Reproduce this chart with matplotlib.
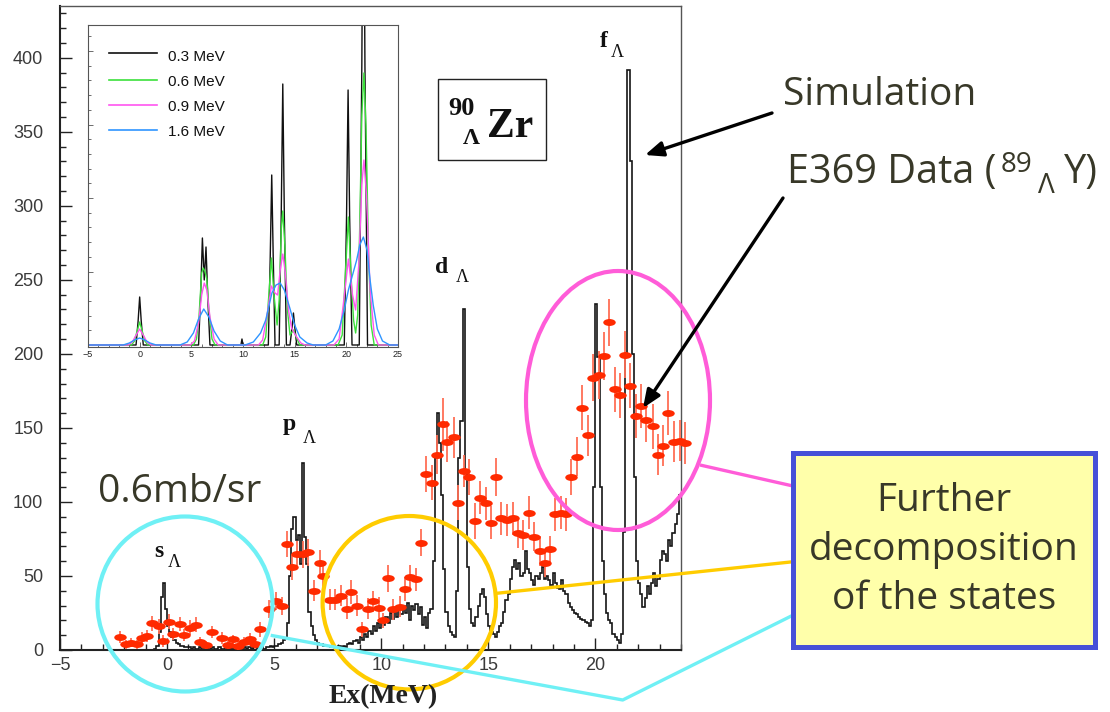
import numpy as np
import matplotlib
matplotlib.use('Agg')
import matplotlib.pyplot as plt
from matplotlib.path import Path
from matplotlib.patches import Ellipse, Rectangle, FancyArrowPatch
from matplotlib.ticker import MultipleLocator, NullFormatter

plt.rcParams['font.family'] = ['Liberation Sans', 'DejaVu Sans']

# ---------------- data ----------------
# simulated spectrum (0.1 MeV bins from -5 to 24 MeV)
sim_counts = [
    0, 0, 0, 0, 0, 0, 0, 0, 0, 0,          # -5
    0, 0, 0, 0, 0, 0, 0, 0, 0, 0,          # -4
    0, 0, 0, 0, 0, 0, 0, 0, 0, 0,          # -3
    0, 0, 0, 0, 0, 0, 0, 0, 0, 0,          # -2
    0, 0, 0, 0, 1, 3, 12, 36, 45, 28,      # -1
    16, 12, 9, 7, 5, 4, 3, 3, 2, 2,        # 0
    2, 1, 2, 1, 1, 2, 1, 1, 2, 1,          # 1
    1, 2, 1, 1, 2, 1, 1, 2, 1, 1,          # 2
    2, 1, 1, 2, 1, 1, 2, 1, 2, 1,          # 3
    2, 2, 1, 2, 2, 1, 2, 2, 3, 2,          # 4
    3, 3, 4, 5, 7, 8, 18, 50, 82, 90,      # 5
    74, 78, 58, 126, 76, 58, 26, 16, 10, 7,  # 6
    5, 4, 4, 3, 3, 3, 2, 3, 2, 2,          # 7
    3, 2, 3, 2, 4, 5, 4, 6, 7, 5,          # 8
    9, 7, 11, 9, 13, 11, 16, 13, 18, 15,   # 9
    20, 17, 22, 18, 25, 21, 27, 22, 28, 24,  # 10
    30, 25, 32, 20, 30, 27, 31, 24, 29, 17,  # 11
    22, 15, 25, 28, 60, 130, 160, 140, 105, 55,  # 12
    26, 16, 12, 10, 9, 40, 130, 155, 230, 120,   # 13
    56, 28, 18, 16, 22, 30, 38, 41, 36, 24,  # 14
    16, 12, 11, 9, 12, 16, 18, 26, 34, 38,   # 15
    48, 56, 61, 55, 59, 50, 52, 67, 55, 52,  # 16
    47, 44, 50, 48, 52, 56, 48, 50, 47, 44,  # 17
    52, 45, 42, 41, 47, 40, 38, 32, 29, 27,  # 18
    25, 24, 22, 21, 20, 19, 18, 16, 20, 110,  # 19
    234, 198, 110, 60, 38, 25, 20, 18, 11, 9,  # 20
    7, 5, 11, 80, 200, 392, 330, 200, 117, 60,  # 21
    45, 38, 29, 35, 43, 38, 45, 52, 43, 48,  # 22
    61, 67, 65, 60, 74, 70, 79, 85, 92, 105,  # 23
]
sim_edges = np.linspace(-5.0, 24.0, len(sim_counts) + 1)

# E369 data points
data_E = [-2.2, -1.92, -1.68, -1.42, -1.18, -0.95, -0.72, -0.4, -0.17, 0.11,
          0.3, 0.61, 0.81, 1.07, 1.36, 1.54, 1.82, 2.09, 2.55, 2.83,
          3.1, 3.33, 3.61, 3.85, 4.11, 4.35, 4.78, 5.09, 5.36, 5.59,
          5.83, 6.06, 6.37, 6.6, 6.84, 7.12, 7.27, 7.62, 7.85, 8.12,
          8.4, 8.6, 8.86, 9.1, 9.38, 9.64, 9.88, 10.1, 10.34, 10.55,
          10.86, 11.12, 11.36, 11.64, 11.85, 12.1, 12.37, 12.6, 12.88, 13.07,
          13.38, 13.6, 13.85, 14.11, 14.39, 14.63, 14.89, 15.12, 15.37, 15.6,
          15.87, 16.14, 16.37, 16.62, 16.89, 17.12, 17.4, 17.66, 17.9, 18.13,
          18.4, 18.64, 18.88, 19.14, 19.38, 19.66, 19.88, 20.19, 20.4, 20.65,
          20.9, 21.14, 21.4, 21.64, 21.92, 22.13, 22.38, 22.68, 22.91, 23.16,
          23.4, 23.66, 23.93, 24.2]
data_counts = [8.6, 4, 5, 4, 8, 9.7, 18, 16, 6, 19,
               11, 17.6, 10, 15, 17, 5.6, 3.4, 12.4, 8.3, 3.4,
               7.2, 3, 5.6, 7.2, 3.8, 14, 27.5, 33, 29.7, 71.6,
               56, 64.6, 64.6, 66, 40, 58.6, 50, 34, 34, 36.7,
               28, 39.4, 30, 14, 28, 33, 28.6, 20, 48.4, 27.5,
               29.3, 41, 49.5, 47.7, 72.5, 119, 113, 132, 152.5, 140.7,
               143.7, 99.5, 121, 116.7, 87, 103, 99, 86, 116.7, 89,
               87.8, 89, 79, 77.7, 92.8, 76.6, 67, 58.6, 68, 91.7,
               92.8, 91.7, 117, 130.6, 163.7, 145, 184, 185.8, 198.6, 221.4,
               176, 172, 199.5, 178.6, 158, 165, 155.4, 151, 132, 138,
               160, 140.7, 141.4, 139.7]
data_err = [4, 3, 3, 3, 4, 4, 5, 5, 4, 5,
            4, 5, 4, 5, 5, 3, 3, 4, 4, 3,
            3, 3, 3, 4, 3, 5, 6, 6, 6, 9,
            9, 9, 9, 9, 7, 9, 8, 7, 7, 7,
            7, 8, 7, 5, 7, 7, 7, 5, 9, 7,
            7, 8, 8, 8, 9, 12, 12, 13, 18, 14,
            14, 12, 11, 12, 12, 11, 11, 11, 13, 11,
            11, 11, 10, 10, 11, 10, 10, 9, 9, 11,
            11, 11, 12, 13, 15, 14, 16, 16, 16, 16,
            15, 15, 16, 15, 15, 15, 15, 15, 14, 14,
            15, 14, 14, 14]

# inset: simulated spectra for four resolutions (height in arbitrary units)
ins03_E = [-5, -0.35, -0.15, 0.0, 0.15, 0.35, 5.7, 5.9, 6.07, 6.25, 6.42, 6.6, 6.8,
           9.8, 9.9, 10.0, 12.45, 12.63, 12.78, 12.93, 13.1, 13.5, 13.7, 13.85, 14.0, 14.2,
           14.55, 14.73, 14.88, 15.03, 15.2, 19.8, 20.02, 20.17, 20.32, 20.55,
           21.25, 21.5, 21.65, 21.8, 22.05, 25]
ins03_h = [0, 0, 24, 48, 24, 0, 0, 50, 107, 65, 98, 45, 0,
           0, 6, 0, 0, 85, 170, 85, 0, 0, 130, 261, 130, 0,
           0, 16, 32, 16, 0, 0, 128, 255, 128, 0,
           0, 280, 560, 280, 0, 0]
ins06_E = [-5, -0.8, -0.5, -0.3, 0.0, 0.3, 0.5, 0.8,
           5.2, 5.5, 5.75, 6.0, 6.15, 6.3, 6.5, 6.7, 7.0, 7.3,
           11.9, 12.2, 12.5, 12.75, 13.0, 13.3, 13.5, 13.7, 13.85, 14.05, 14.3, 14.55, 14.88, 15.15, 15.5,
           19.2, 19.6, 19.9, 20.2, 20.45, 20.7, 20.9, 21.1, 21.3, 21.5, 21.7, 21.9, 22.15, 22.4, 22.7, 25]
ins06_h = [0, 0, 4, 12, 23, 12, 4, 0,
           0, 6, 30, 72, 77, 74, 66, 35, 6, 0,
           0, 8, 50, 87, 50, 20, 45, 115, 134, 100, 35, 10, 15, 8, 0,
           0, 10, 70, 128, 70, 25, 12, 30, 120, 230, 272, 220, 90, 20, 0, 0]
ins09_E = [-5, -1.1, -0.7, -0.45, 0.0, 0.45, 0.7, 1.1,
           4.9, 5.3, 5.7, 6.0, 6.25, 6.5, 6.8, 7.2, 7.6,
           11.5, 11.9, 12.3, 12.75, 13.1, 13.35, 13.6, 13.85, 14.1, 14.4, 14.7, 14.9, 15.2, 15.6, 16.0,
           18.8, 19.3, 19.7, 20.2, 20.6, 20.9, 21.2, 21.5, 21.7, 21.95, 22.3, 22.7, 23.1, 25]
ins09_h = [0, 0, 3, 8, 16, 8, 3, 0,
           0, 4, 22, 50, 62, 55, 28, 6, 0,
           0, 5, 28, 59, 52, 50, 75, 91, 72, 35, 17, 13, 8, 2, 0,
           0, 6, 40, 86, 50, 35, 80, 160, 185, 150, 55, 10, 0, 0]
ins16_E = [-5, -1.6, -1.0, -0.5, 0.0, 0.5, 1.0, 1.6,
           3.9, 4.6, 5.2, 5.7, 6.2, 6.7, 7.2, 7.8, 8.5,
           10.2, 11.0, 11.7, 12.2, 12.8, 13.2, 13.6, 14.0, 14.5, 15.0, 15.5, 16.2, 16.8,
           18.0, 18.7, 19.3, 19.8, 20.2, 20.6, 21.0, 21.3, 21.65, 22.0, 22.3, 22.6, 23.0, 23.5, 24.2, 25]
ins16_h = [0, 0, 2, 5, 7, 5, 2, 0,
           0, 3, 12, 26, 36, 28, 14, 4, 0,
           0, 3, 12, 25, 52, 60, 62, 55, 38, 20, 8, 2, 0,
           0, 4, 16, 35, 55, 70, 85, 100, 108, 95, 65, 40, 16, 4, 0, 0]
inset_labels = ['0.3 MeV', '0.6 MeV', '0.9 MeV', '1.6 MeV']
inset_colors = ['#111111', '#3ce03c', '#ff55f0', '#2f95ff']

# ---------------- figure ----------------
W, H = 1110, 712
fig = plt.figure(figsize=(W / 100, H / 100), dpi=100)


def px_rect(l, t, r, b):
    return [l / W, (H - b) / H, (r - l) / W, (b - t) / H]


ax = fig.add_axes(px_rect(60, 6, 681, 650))
ax.set_xlim(-5, 24)
ax.set_ylim(0, 435)
ax.stairs(sim_counts, sim_edges, color='#151515', lw=1.2, baseline=None, zorder=2)

circ = Path.unit_circle()
ell_marker = Path(circ.vertices * np.array([1.8, 1.0]), circ.codes)
eb = ax.errorbar(data_E, data_counts, yerr=data_err, fmt='none', ecolor='#ff6e55',
                 elinewidth=1.3, zorder=3)
for c in eb[2]:
    c.set_clip_on(False)
ax.plot(data_E, data_counts, ls='none', marker=ell_marker, ms=9, color='#ff2a00',
        mec='none', clip_on=False, zorder=4)

ax.xaxis.set_major_locator(MultipleLocator(5))
ax.xaxis.set_minor_locator(MultipleLocator(1))
ax.yaxis.set_major_locator(MultipleLocator(50))
ax.yaxis.set_minor_locator(MultipleLocator(10))
ax.tick_params(which='both', direction='in', top=False, right=False,
               color='#222222', width=1.0, labelcolor='#3a3a3a', labelsize=13)
ax.tick_params(which='major', length=8.6)
ax.tick_params(which='minor', length=4.3)
ax.tick_params(axis='x', pad=5)
ax.tick_params(axis='y', pad=12)
for s in ['left', 'bottom']:
    ax.spines[s].set_color('#222222')
    ax.spines[s].set_linewidth(1.5)
for s in ['top', 'right']:
    ax.spines[s].set_color('#555555')
    ax.spines[s].set_linewidth(1.0)

# ---- inset ----
axi = fig.add_axes(px_rect(88, 25, 398, 347))
axi.set_xlim(-5, 25)
axi.set_ylim(-2, 320)
for E, h, col in zip([ins03_E, ins06_E, ins09_E, ins16_E],
                     [ins03_h, ins06_h, ins09_h, ins16_h], inset_colors):
    axi.plot(E, h, color=col, lw=1.0)
axi.xaxis.set_major_locator(MultipleLocator(5))
axi.xaxis.set_minor_locator(MultipleLocator(1))
axi.yaxis.set_major_locator(MultipleLocator(73.5))
axi.yaxis.set_minor_locator(MultipleLocator(14.7))
axi.yaxis.set_major_formatter(NullFormatter())
axi.tick_params(which='both', direction='in', top=False, right=False,
                color='#555555', width=0.6, labelsize=6.5, labelcolor='#222222', pad=2)
axi.tick_params(which='major', length=3.5)
axi.tick_params(which='minor', length=2.0)
for s in axi.spines.values():
    s.set_color('#555555')
    s.set_linewidth(0.8)
leg_line_y = [53.3, 80, 105, 130]
leg_text_y = [56.7, 81.7, 107.3, 131.7]
for lab, col, ly, ty in zip(inset_labels, inset_colors, leg_line_y, leg_text_y):
    yf = (347 - ly) / 322
    axi.plot([(109 - 88) / 310, (157 - 88) / 310], [yf, yf], transform=axi.transAxes,
             color=col, lw=1.2)
    axi.text((168 - 88) / 310, (347 - ty) / 322, lab, transform=axi.transAxes,
             va='center', ha='left', fontsize=11, color='#111111')

# ---- overlay (pixel coordinates) ----
ov = fig.add_axes([0, 0, 1, 1], zorder=10)
ov.set_xlim(0, W)
ov.set_ylim(H, 0)
ov.axis('off')
ov.patch.set_alpha(0)

serif = ['Liberation Serif', 'DejaVu Serif']
sans2 = ['Open Sans', 'DejaVu Sans']
txtcol = '#383828'

ov.text(383, 703, 'Ex(MeV)', ha='center', va='baseline', family=serif,
        weight='bold', fontsize=20, color='#222222')

# peak labels
for (lx, ly, letter), (gx, gy) in zip(
        [(154, 557, 's'), (283, 430, 'p'), (435, 273, 'd'), (600, 46.7, 'f')],
        [(168, 567), (303, 443), (456, 281.7), (610.7, 56.7)]):
    ov.text(lx, ly, letter, ha='left', va='baseline', family=serif, weight='bold',
            fontsize=17, color='#111111')
    ov.text(gx, gy, 'Λ', ha='left', va='baseline', family=serif, fontsize=13,
            color='#111111')

# 90 Lambda Zr box
ov.add_patch(Rectangle((438.3, 79.3), 107.7, 80.7, fill=False, ec='#222222', lw=1.0))
ov.text(448, 115, '90', ha='left', va='baseline', family=serif, weight='bold',
        fontsize=19, color='#111111')
ov.text(463, 144, 'Λ', ha='left', va='baseline', family=serif, weight='bold',
        fontsize=17, color='#111111')
ov.text(486.7, 137, 'Zr', ha='left', va='baseline', family=serif, weight='bold',
        fontsize=30, color='#111111')

# 0.6mb/sr
ov.text(98.3, 501.7, '0.6mb/sr', ha='left', va='baseline', family=sans2,
        fontsize=28, color=txtcol)

# circles
ov.add_patch(Ellipse((185, 604), 175, 175, fill=False, ec='#6ff0f5', lw=3))
ov.add_patch(Ellipse((409.3, 602.7), 173.4, 173.4, fill=False, ec='#ffcc00', lw=3))
ov.add_patch(Ellipse((618, 400.5), 184, 259, fill=False, ec='#ff5cd8', lw=3))

# connecting lines
ov.plot([700, 793], [465, 486], color='#ff5cd8', lw=2.4, solid_capstyle='butt')
ov.plot([496.7, 793.3], [593.3, 561.7], color='#ffcc00', lw=2.4, solid_capstyle='butt')
ov.plot([270.7, 622.7, 793.3], [635.3, 700, 615], color='#6ff0f5', lw=2.4,
        solid_capstyle='butt')

# box
ov.add_patch(Rectangle((793.3, 453.3), 301.7, 193.4, fc='#ffffaa', ec='#4650d8', lw=3.6,
                       zorder=3))
for ty, t in zip([510.7, 560, 609.3], ['Further', 'decomposition', 'of the states']):
    ov.text(944, ty, t, ha='center', va='baseline', family=sans2, fontsize=28,
            color=txtcol, zorder=4)

# Simulation / data labels
ov.text(783.3, 105, 'Simulation', ha='left', va='baseline', family=sans2, fontsize=28,
        color=txtcol)
ov.text(786.7, 183.3, 'E369 Data (', ha='left', va='baseline', family=sans2,
        fontsize=28.5, color=txtcol)
ov.text(1001, 171.7, '89', ha='left', va='baseline', family=sans2, fontsize=20,
        color=txtcol)
ov.text(1038, 193.3, 'Λ', ha='left', va='baseline', family=sans2, fontsize=20,
        color=txtcol)
ov.text(1064, 183.3, 'Y)', ha='left', va='baseline', family=sans2, fontsize=28.5,
        color=txtcol)

# arrows
for (x0, y0), (x1, y1) in [((772, 113), (645, 155)), ((783, 198), (643, 408))]:
    ov.add_patch(FancyArrowPatch((x0, y0), (x1, y1),
                                 arrowstyle='-|>,head_length=0.6,head_width=0.25',
                                 mutation_scale=18, lw=2.4, color='black',
                                 shrinkA=0, shrinkB=0))

fig.savefig('out.png', dpi=100)
